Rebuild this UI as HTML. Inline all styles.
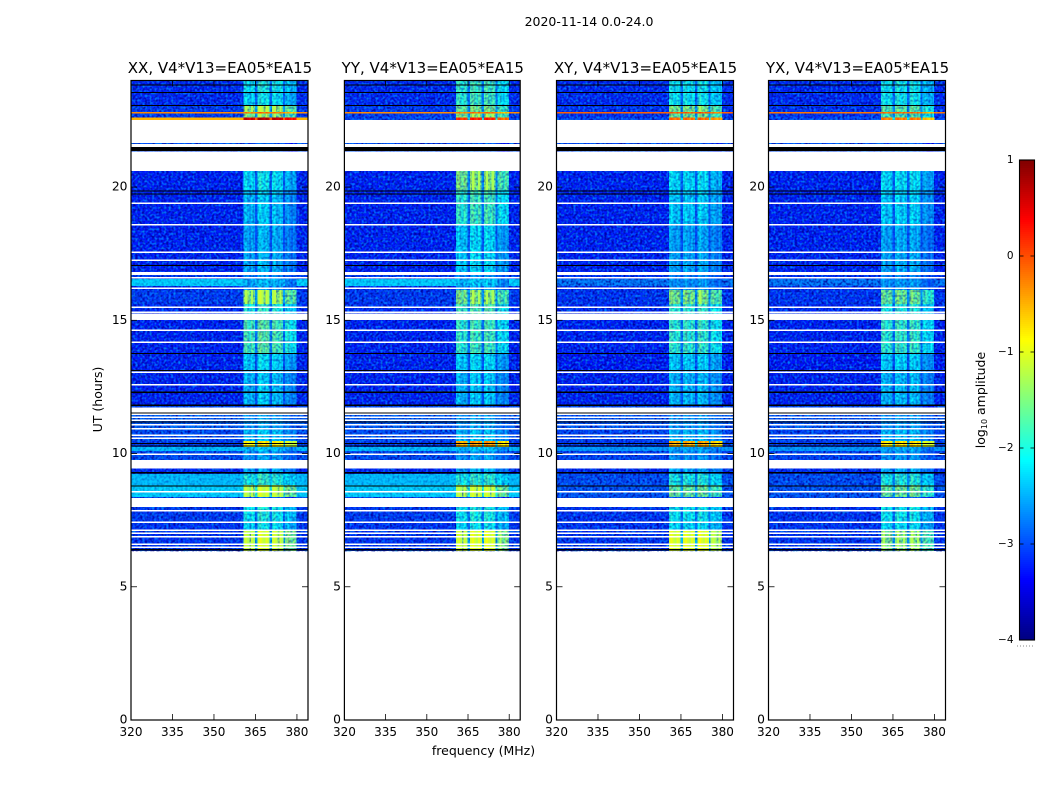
<!DOCTYPE html>
<html lang="en">
<head>
<meta charset="utf-8">
<title>2020-11-14 spectrogram panels</title>
<style>
html,body{margin:0;padding:0;background:#fff;width:1050px;height:800px;overflow:hidden}
svg{display:block}
text{font-family:"DejaVu Sans","Liberation Sans",sans-serif;fill:#000}
</style>
</head>
<body>
<svg id="fig" xmlns="http://www.w3.org/2000/svg" width="1050" height="800" viewBox="0 0 1050 800">
  <defs>
    <filter id="speckle-dark" x="0" y="0" width="100%" height="100%" color-interpolation-filters="sRGB">
      <feTurbulence type="fractalNoise" baseFrequency="0.42" numOctaves="1" seed="4"/>
      <feColorMatrix type="matrix" values="0 0 0 0 0  0 0 0 0 0  0 0 0 0 0.6  2.6 0 0 0 -1.05"/>
    </filter>
    <filter id="speckle-light" x="0" y="0" width="100%" height="100%" color-interpolation-filters="sRGB">
      <feTurbulence type="fractalNoise" baseFrequency="0.42" numOctaves="1" seed="11"/>
      <feColorMatrix type="matrix" values="0 0 0 0 0  0 0 0 0 0.6  0 0 0 0 1  0 2.4 0 0 -1.1"/>
    </filter>
  </defs>
  <text x="589" y="26" font-size="12.5" text-anchor="middle">2020-11-14 0.0-24.0</text>
  <text x="102" y="399.5" font-size="12.5" text-anchor="middle" transform="rotate(-90 102 399.5)">UT (hours)</text>
  <text x="483.5" y="755" font-size="12.5" text-anchor="middle">frequency (MHz)</text>
  <text x="985" y="400" font-size="12.5" text-anchor="middle" transform="rotate(-90 985 400)">log<tspan font-size="8" dy="2">10</tspan><tspan dy="-2"> amplitude</tspan></text>
  <g id="panels"></g>
  <g id="colorbar"></g>
</svg>
<script>
// Panel names
const panelNames = ['XX', 'YY', 'XY', 'YX'];
const panelSuffix = ', V4*V13=EA05*EA15';

// Axis ticks
const freqTicks = [320, 335, 350, 365, 380];
const hourTicks = [0, 5, 10, 15, 20];
const colorTicks = [1, 0, -1, -2, -3, -4];

// Time-block edges in UT hours, top to bottom (one more entry than the level arrays)
const rowEdges = [24, 23.56, 23.08, 22.81, 22.76, 22.62, 22.51, 21.65, 21.5, 21.35, 20.6, 19.89, 18.57, 16.81, 16.55, 16.29, 16.14, 15.61, 15.01, 13.77, 13.13, 12.31, 11.82, 11.56, 10.88, 10.47, 10.24, 10.09, 9.76, 9.46, 9.23, 8.82, 8.37, 7.99, 7.43, 7.13, 6.34];

// log10 amplitude outside the receiver sub-bands, per time block
const floorXX = [-3.2, -3.2, -3.1, -0.3, -3.1, -0.5, -3, -3, -3, -3, -3.25, -3.25, -3.25, -3.1, -2.3, -3.2, -3.1, -3.2, -3.25, -3.25, -3.25, -3.25, -3, -2.9, -3.0, -3.1, -2.4, -3.0, -3, -3.2, -2.4, -2.3, -3, -3.1, -3.15, -3.15];
const floorYY = [-3.2, -3.2, -3.1, -0.3, -3.1, -3.0, -3, -3, -3, -3, -3.25, -3.25, -3.25, -3.1, -2.3, -3.2, -3.1, -3.2, -3.25, -3.25, -3.25, -3.25, -3, -2.9, -3.0, -3.1, -2.4, -3.0, -3, -3.2, -2.4, -2.3, -3, -3.1, -3.15, -3.15];
const floorXY = [-3.2, -3.2, -3.15, -0.1, -3.15, -3.0, -3, -3, -3, -3, -3.25, -3.25, -3.25, -3.15, -2.75, -3.2, -3.15, -3.2, -3.25, -3.3, -3.25, -3.25, -3, -2.95, -3.05, -3.1, -2.6, -3.05, -3, -3.2, -3.0, -2.95, -3, -3.15, -3.15, -3.15];
const floorYX = [-3.2, -3.2, -3.15, -0.2, -3.15, -3.0, -3, -3, -3, -3, -3.25, -3.25, -3.25, -3.15, -2.75, -3.2, -3.15, -3.2, -3.25, -3.3, -3.25, -3.25, -3, -2.95, -3.05, -3.1, -2.6, -3.05, -3, -3.2, -3.0, -2.95, -3, -3.15, -3.15, -3.15];

// log10 amplitude inside the receiver sub-bands, per time block
const bandXX = [-2.1, -2.2, -1.4, -0.3, -1.5, 0.6, -3, -3, -2.3, -3, -2.2, -2.4, -2.5, -2.7, -2.5, -2.6, -1.4, -2.0, -1.8, -2.3, -2.4, -2.4, -3, -2.6, -2.4, -0.9, -2.4, -2.6, -3, -2.5, -2.0, -1.3, -3, -2.1, -2.2, -1.25];
const bandYY = [-1.9, -1.9, -1.6, -0.3, -1.5, 0.1, -3, -3, -2.3, -3, -1.5, -1.9, -2.3, -2.7, -2.4, -2.6, -1.5, -1.8, -1.9, -2.3, -2.4, -2.4, -3, -2.6, -2.4, -0.5, -2.4, -2.6, -3, -2.5, -2.0, -1.3, -3, -2.1, -2.2, -1.2];
const bandXY = [-2.1, -2.1, -1.5, -0.1, -1.6, -0.2, -3, -3, -2.3, -3, -2.2, -2.3, -2.5, -2.7, -2.6, -2.6, -1.5, -1.9, -1.9, -2.3, -2.4, -2.4, -3, -2.6, -2.4, -0.5, -2.5, -2.6, -3, -2.5, -2.0, -1.6, -3, -2.1, -2.2, -1.1];
const bandYX = [-2.1, -2.1, -1.7, -0.2, -1.8, -0.3, -3, -3, -2.3, -3, -2.2, -2.3, -2.5, -2.7, -2.6, -2.6, -1.6, -2.0, -1.9, -2.3, -2.4, -2.4, -3, -2.6, -2.4, -0.8, -2.5, -2.6, -3, -2.5, -2.0, -1.6, -3, -2.1, -2.2, -1.45];

// Receiver sub-bands in MHz and their relative strengths per panel
const subBands = [[360.6, 364.8], [365.8, 370], [370.9, 375], [375.7, 379.9]];
const subBandOffsetXX = [0, 0.15, 0.05, -0.25];
const subBandOffsetYY = [0, 0.1, 0.1, -0.25];
const subBandOffsetXY = [0, 0, 0.05, -0.2];
const subBandOffsetYX = [0, 0.05, 0.05, -0.3];
const channelShape = [0.05, 0.15, 0, -0.12, 0.1, -0.05];

// Flagged (white) and missing (black) time ranges, in UT hours
const wideGaps = [[22.51, 21.65], [21.61, 21.49], [21.33, 20.6], [16.81, 16.7], [15.25, 15.01], [11.73, 11.54], [9.76, 9.44], [8.34, 7.99]];
const thinGaps = [19.39, 18.59, 17.55, 17.25, 16.6, 16.21, 15.49, 15.3, 14.63, 14.18, 13.05, 12.58, 11.48, 11.36, 11.25, 11.08, 10.93, 10.69, 10.57, 9.97, 8.57, 7.85, 7.42, 7.13, 7.01, 6.88, 6.59, 6.48];
const blackRanges = [[21.5, 21.35], [19.88, 19.84], [19.76, 19.72], [13.14, 13.09], [12.33, 12.27], [11.84, 11.78], [9.31, 9.25], [6.42, 6.36]];
const blackLines = [23.84, 23.55, 23.07, 17.05, 13.75, 11.53, 11.18, 10.38, 10.29, 8.79];

const panelFloors = [floorXX, floorYY, floorXY, floorYX];
const panelBands = [bandXX, bandYY, bandXY, bandYX];
const panelOffsets = [subBandOffsetXX, subBandOffsetYY, subBandOffsetXY, subBandOffsetYX];

const SVG_NS = 'http://www.w3.org/2000/svg';
const panelLeft = [131, 344.4, 556.5, 768.5];
const panelWidths = [177, 175.8, 177, 177];
const FREQ_MIN = 320, FREQ_MAX = 384;
const PLOT_TOP = 80.5, PLOT_BOTTOM = 720;
const BRIGHT_LEVEL = -1.3;
const SMOOTH_FLOOR = -2.6;

function yOfHour(h) { return PLOT_BOTTOM - (h / 24) * (PLOT_BOTTOM - PLOT_TOP); }
function clamp01(v) { return Math.max(0, Math.min(1, v)); }
function jet(level) {
  const t = clamp01((level + 4) / 5);
  const r = clamp01(Math.min(4 * t - 1.5, -4 * t + 4.5));
  const g = clamp01(Math.min(4 * t - 0.5, -4 * t + 3.5));
  const b = clamp01(Math.min(4 * t + 0.5, -4 * t + 2.5));
  return 'rgb(' + Math.round(r * 255) + ',' + Math.round(g * 255) + ',' + Math.round(b * 255) + ')';
}
function make(parent, tag, attrs) {
  const el = document.createElementNS(SVG_NS, tag);
  for (const k in attrs) el.setAttribute(k, attrs[k]);
  parent.appendChild(el);
  return el;
}
function cell(parent, x0, x1, y0, y1, level, minLevel, opacity) {
  if (level < minLevel) return null;
  const el = make(parent, 'rect', { x: x0, y: y0, width: Math.max(0, x1 - x0), height: Math.max(0, y1 - y0), fill: jet(level), opacity: opacity, 'shape-rendering': 'crispEdges' });
  
  
  return el;
}

const panelsRoot = document.getElementById('panels');

panelNames.forEach(function (name, p) {
  const left = panelLeft[p];
  const panelWidth = panelWidths[p];
  const right = left + panelWidth;
  const xOf = function (f) { return left + (f - FREQ_MIN) / (FREQ_MAX - FREQ_MIN) * panelWidth; };
  const g = make(panelsRoot, 'g', {});
  
  

  const clip = make(g, 'clipPath', { id: 'clip-' + name });
  make(clip, 'rect', { x: left, y: PLOT_TOP, width: panelWidth, height: PLOT_BOTTOM - PLOT_TOP });

  const data = make(g, 'g', { 'clip-path': 'url(#clip-' + name + ')' });
  
  

  const floors = panelFloors[p], bands = panelBands[p], offs = panelOffsets[p];

  function drawRows(minLevel) {
    for (let r = 0; r < rowEdges.length - 1; r++) {
      const y0 = yOfHour(rowEdges[r]), y1 = yOfHour(rowEdges[r + 1]);
      const floor = floors[r], band = bands[r];
      cell(data, left, xOf(subBands[0][0]), y0, y1, floor, minLevel, 1);
      subBands.forEach(function (sb, s) {
        const n = channelShape.length;
        const w = (sb[1] - sb[0]) / n;
        channelShape.forEach(function (shape, c) {
          const f0 = sb[0] + c * w;
          cell(data, xOf(f0), xOf(f0 + w) + 0.2, y0, y1, band + offs[s] + shape, minLevel, 1);
        });
        if (s < subBands.length - 1) {
          cell(data, xOf(sb[1]), xOf(subBands[s + 1][0]), y0, y1, floor + 0.35 * (band - floor), minLevel, 1);
        }
      });
      cell(data, xOf(subBands[3][1]), right, y0, y1, floor, minLevel, 1);
    }
  }

  drawRows(-99);

  // Pixel-level texture only, weaker over the smoother sub-band range; the levels come from the arrays above
  const lastY = yOfHour(rowEdges[rowEdges.length - 1]);
  const spans = [[left, xOf(subBands[0][0]), 1], [xOf(subBands[0][0]), xOf(subBands[3][1]), 0.55], [xOf(subBands[3][1]), right, 1]];
  spans.forEach(function (span) {
    const dark = make(data, 'rect', { x: span[0], y: PLOT_TOP, width: span[1] - span[0], height: lastY - PLOT_TOP, filter: 'url(#speckle-dark)', opacity: span[2] });
    
    
    const light = make(data, 'rect', { x: span[0], y: PLOT_TOP, width: span[1] - span[0], height: lastY - PLOT_TOP, filter: 'url(#speckle-light)', opacity: span[2] });
    
    
  });

  // Wide bright continuum blocks are smoother than the noise floor
  for (let r = 0; r < rowEdges.length - 1; r++) {
    const y0 = yOfHour(rowEdges[r]), y1 = yOfHour(rowEdges[r + 1]);
    cell(data, left, xOf(subBands[0][0]), y0, y1, floors[r], SMOOTH_FLOOR, 0.6);
    cell(data, xOf(subBands[3][1]), right, y0, y1, floors[r], SMOOTH_FLOOR, 0.6);
  }

  // Bright, smooth cells sit above the texture
  drawRows(BRIGHT_LEVEL);

  wideGaps.forEach(function (gap) {
    const el = make(data, 'rect', { x: left, y: yOfHour(gap[0]), width: panelWidth, height: yOfHour(gap[1]) - yOfHour(gap[0]), fill: '#fff', 'shape-rendering': 'crispEdges' });
    
    
  });
  thinGaps.forEach(function (h) {
    const el = make(data, 'rect', { x: left, y: yOfHour(h) - 0.75, width: panelWidth, height: 1.5, fill: '#fff', 'shape-rendering': 'crispEdges' });
    
    
  });
  blackRanges.forEach(function (rng) {
    const el = make(data, 'rect', { x: left, y: yOfHour(rng[0]), width: panelWidth, height: yOfHour(rng[1]) - yOfHour(rng[0]), fill: '#000', 'shape-rendering': 'crispEdges' });
    
    
  });
  blackLines.forEach(function (h) {
    const el = make(data, 'rect', { x: left, y: yOfHour(h) - 0.5, width: panelWidth, height: 1, fill: '#000', 'shape-rendering': 'crispEdges' });
    
    
  });

  // Frame
  const frame = make(g, 'rect', { x: left, y: PLOT_TOP, width: panelWidth, height: PLOT_BOTTOM - PLOT_TOP, fill: 'none', stroke: '#000', 'stroke-width': 1.2 });
  
  

  // Frequency ticks
  freqTicks.forEach(function (f) {
    const x = xOf(f);
    const b = make(g, 'line', { x1: x, x2: x, y1: PLOT_BOTTOM, y2: PLOT_BOTTOM - 6, stroke: '#000', 'stroke-width': 0.8 });
    
    
    const t = make(g, 'line', { x1: x, x2: x, y1: PLOT_TOP, y2: PLOT_TOP + 6, stroke: '#000', 'stroke-width': 0.8 });
    
    
    const lab = make(g, 'text', { x: x, y: 736, 'font-size': 12, 'text-anchor': 'middle' });
    
    
    lab.textContent = f;
  });

  // Hour ticks
  hourTicks.forEach(function (h) {
    const y = yOfHour(h);
    const l = make(g, 'line', { x1: left, x2: left + 6, y1: y, y2: y, stroke: '#000', 'stroke-width': 0.8 });
    
    
    const rr = make(g, 'line', { x1: right, x2: right - 6, y1: y, y2: y, stroke: '#000', 'stroke-width': 0.8 });
    
    
    const lab = make(g, 'text', { x: left - 3.5, y: y + 3.5, 'font-size': 12.3, 'text-anchor': 'end' });
    
    
    lab.textContent = h;
  });

  const title = make(g, 'text', { x: left + panelWidth / 2 + 0.5, y: 73, 'font-size': 15, 'text-anchor': 'middle' });
  
  
  title.textContent = name + panelSuffix;
});

// Colorbar
const cbRoot = document.getElementById('colorbar');
const CB_LEFT = 1019.5, CB_WIDTH = 15, CB_TOP = 160, CB_BOTTOM = 640, CB_MIN = -4, CB_MAX = 1;
function yOfLevel(v) { return CB_BOTTOM - (v - CB_MIN) / (CB_MAX - CB_MIN) * (CB_BOTTOM - CB_TOP); }
for (let y = CB_TOP; y < CB_BOTTOM; y += 2) {
  const v = CB_MIN + (CB_BOTTOM - y - 1) / (CB_BOTTOM - CB_TOP) * (CB_MAX - CB_MIN);
  const el = make(cbRoot, 'rect', { x: CB_LEFT, y: y, width: CB_WIDTH, height: 2.1, fill: jet(v), 'shape-rendering': 'crispEdges' });
  
  
}
const cbFrame = make(cbRoot, 'rect', { x: CB_LEFT, y: CB_TOP, width: CB_WIDTH, height: CB_BOTTOM - CB_TOP, fill: 'none', stroke: '#000', 'stroke-width': 1.1 });


colorTicks.forEach(function (v) {
  const y = yOfLevel(v);
  const a = make(cbRoot, 'line', { x1: CB_LEFT, x2: CB_LEFT + 4, y1: y, y2: y, stroke: '#000', 'stroke-width': 0.8 });
  
  
  const b = make(cbRoot, 'line', { x1: CB_LEFT + CB_WIDTH, x2: CB_LEFT + CB_WIDTH - 4, y1: y, y2: y, stroke: '#000', 'stroke-width': 0.8 });
  
  
  const lab = make(cbRoot, 'text', { x: 1013.5, y: y + 3, 'font-size': 10.5, 'text-anchor': 'end' });
  
  
  lab.textContent = v < 0 ? '\u2212' + Math.abs(v) : String(v);
});
const dots = make(cbRoot, 'line', { x1: 1017, x2: 1035, y1: 646, y2: 646, stroke: '#888', 'stroke-width': 1, 'stroke-dasharray': '1 2' });


</script>
</body>
</html>
